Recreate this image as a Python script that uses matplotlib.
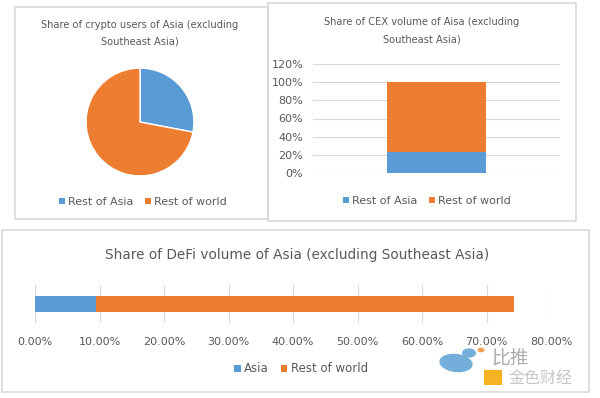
import numpy as np
import matplotlib
matplotlib.use('Agg')
import matplotlib.pyplot as plt
from matplotlib.patches import Rectangle, Patch, Ellipse, Circle

#data
pie_labels = ['Rest of Asia', 'Rest of world']
pie_share = [28, 72]

cex_labels = ['Rest of Asia', 'Rest of world']
cex_share = [23, 77]
cex_ticks = [0, 20, 40, 60, 80, 100, 120]

defi_labels = ['Asia', 'Rest of world']
defi_share = [9.5, 64.8]
defi_ticks = [0, 10, 20, 30, 40, 50, 60, 70, 80]

blue = '#5B9BD5'
orange = '#ED7D31'
text_col = '#595959'
grid_col = '#D9D9D9'

W, H = 600, 398
plt.rcParams['font.family'] = ['DejaVu Sans', 'Noto Sans CJK SC']

fig = plt.figure(figsize=(W / 100, H / 100), dpi=100)
fig.patch.set_facecolor('white')

def px_axes(x0, y0, x1, y1):
    # pixel box (top-left origin) -> figure axes
    return fig.add_axes([x0 / W, 1 - y1 / H, (x1 - x0) / W, (y1 - y0) / H])

def frame(x0, y0, x1, y1):
    fig.patches.append(Rectangle((x0 / W, 1 - y1 / H), (x1 - x0) / W, (y1 - y0) / H,
                                 transform=fig.transFigure, fill=False,
                                 edgecolor=grid_col, linewidth=1.2))

def ftext(x, y, s, **kw):
    fig.text(x / W, 1 - y / H, s, ha='center', va='center', color=text_col, **kw)

def legend_at(x, y, labels, colors, size):
    handles = [Patch(facecolor=c, edgecolor='none', label=l) for l, c in zip(labels, colors)]
    fig.legend(handles=handles, loc='center', bbox_to_anchor=(x / W, 1 - y / H),
               ncol=len(labels), frameon=False, fontsize=size, labelcolor=text_col,
               handlelength=0.55, handleheight=0.55, handletextpad=0.3, columnspacing=1.0)

#==============================================
# panel frames
#==============================================
frame(15, 7, 268, 219)
frame(268, 3, 576, 221)
frame(2, 230, 589, 392)

#==============================================
# pie: crypto users
#==============================================
ftext(140, 25, 'Share of crypto users of Asia (excluding', fontsize=7.1)
ftext(140, 41, 'Southeast Asia)', fontsize=7.1)
ax1 = px_axes(85, 67, 195, 177)
ax1.pie(pie_share, colors=[blue, orange], startangle=90, counterclock=False,
        wedgeprops=dict(edgecolor='white', linewidth=1))
ax1.set_xlim(-1.02, 1.02)
ax1.set_ylim(-1.02, 1.02)
ax1.set_aspect('equal')
legend_at(143, 202, pie_labels, [blue, orange], 8)

#==============================================
# stacked column: CEX volume
#==============================================
ftext(422, 22, 'Share of CEX volume of Aisa (excluding', fontsize=7.1)
ftext(422, 39, 'Southeast Asia)', fontsize=7.1)
ax2 = px_axes(313, 64, 560, 173)
ax2.bar([0], [cex_share[0]], width=0.4, color=blue)
ax2.bar([0], [cex_share[1]], width=0.4, bottom=[cex_share[0]], color=orange)
ax2.set_xlim(-0.5, 0.5)
ax2.set_ylim(0, 120)
ax2.set_yticks(cex_ticks)
ax2.set_yticklabels([f'{t}%' for t in cex_ticks])
ax2.set_xticks([])
ax2.grid(axis='y', color=grid_col, linewidth=0.8)
ax2.set_axisbelow(True)
for s in ax2.spines.values():
    s.set_visible(False)
ax2.tick_params(axis='y', length=0, labelsize=8, labelcolor=text_col, pad=7)
legend_at(427, 201, cex_labels, [blue, orange], 8)

#==============================================
# stacked bar: DeFi volume
#==============================================
ftext(297, 255, 'Share of DeFi volume of Asia (excluding Southeast Asia)', fontsize=9.8)
ax3 = px_axes(35, 285, 551, 323)
ax3.barh([0], [defi_share[0]], height=0.42, color=blue)
ax3.barh([0], [defi_share[1]], height=0.42, left=[defi_share[0]], color=orange)
ax3.set_ylim(-0.5, 0.5)
ax3.set_xlim(0, 80)
ax3.set_xticks(defi_ticks)
ax3.set_xticklabels([f'{t:.2f}%' for t in defi_ticks])
ax3.set_yticks([])
ax3.grid(axis='x', color=grid_col, linewidth=0.8)
ax3.axvline(0, color='#BFBFBF', linewidth=0.9, zorder=0.5)
ax3.set_axisbelow(True)
for s in ax3.spines.values():
    s.set_visible(False)
ax3.tick_params(axis='x', length=0, labelsize=8, labelcolor=text_col, pad=10)
legend_at(301, 369, defi_labels, [blue, orange], 8.5)

#==============================================
# watermark (bird + text)
#==============================================
def fig_xy(x, y):
    return (x / W, 1 - y / H)

fig.patches.append(Ellipse(fig_xy(456, 363), 34 / W, 18 / H, angle=-20,
                           transform=fig.transFigure, facecolor='#74AEDB', edgecolor='none'))
fig.patches.append(Circle(fig_xy(469, 353), 7 / W, transform=fig.transFigure,
                          facecolor='#74AEDB', edgecolor='none'))
fig.patches.append(Circle(fig_xy(481, 350), 3.5 / W, transform=fig.transFigure,
                          facecolor='#F0A050', edgecolor='none'))
fig.patches.append(Rectangle(fig_xy(484, 385), 18 / W, 15 / H, transform=fig.transFigure,
                             facecolor='#F5B324', edgecolor='none'))
fig.text(491 / W, 1 - 358 / H, '比推', fontsize=13.5, color='#8f8f8f', alpha=0.75,
         family='Noto Sans CJK SC', style='italic', ha='left', va='center')
fig.text(508 / W, 1 - 378 / H, '金色财经', fontsize=11.5, color='#a0a0a0', alpha=0.6,
         family='Noto Sans CJK SC', ha='left', va='center')

fig.savefig('out.png', dpi=100, facecolor='white')
